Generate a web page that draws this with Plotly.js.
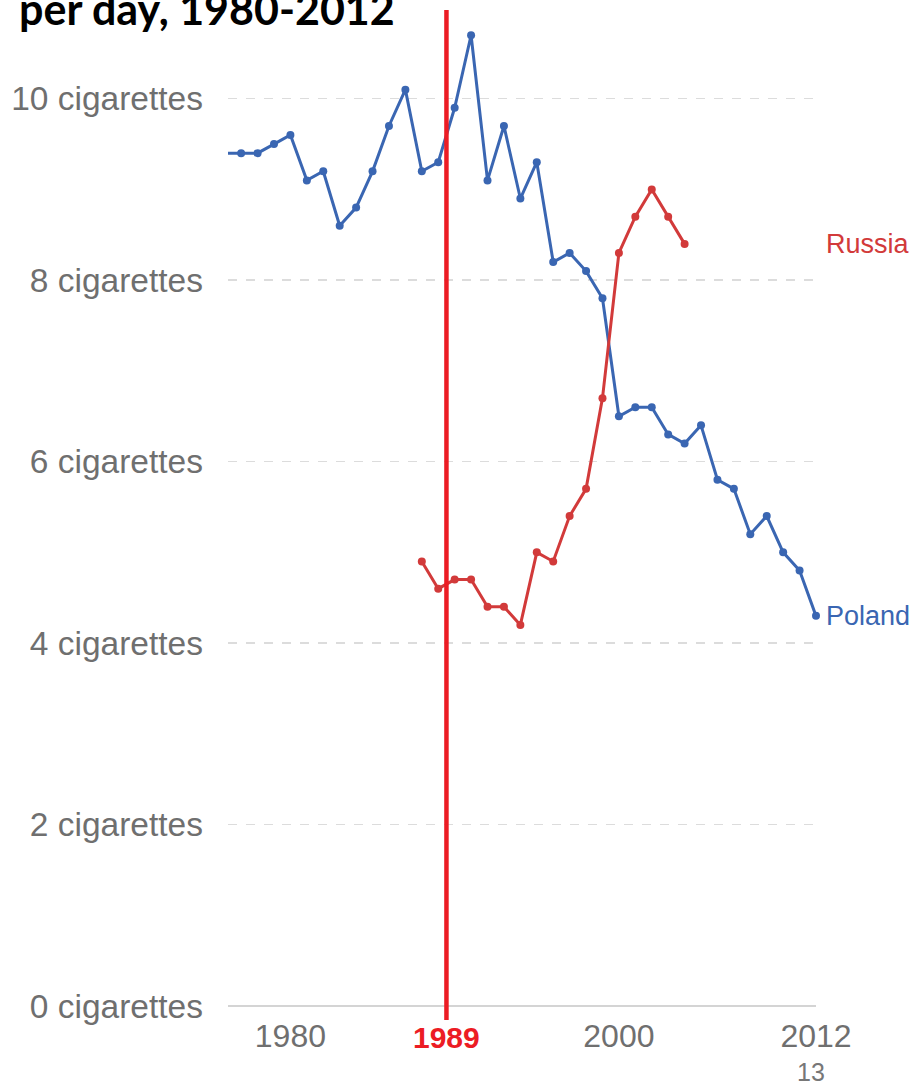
<!DOCTYPE html>
<html>
<head>
<meta charset="utf-8">
<script src="https://cdn.plot.ly/plotly-3.0.1.min.js"></script>
<style>html,body{margin:0;padding:0;background:#fff;}#chart{width:913px;height:1085px;}</style>
</head>
<body>
<div id="chart"></div>
<script>
// ---- data ----
const polandYears = [1976,1977,1978,1979,1980,1981,1982,1983,1984,1985,1986,1987,1988,1989,1990,1991,1992,1993,1994,1995,1996,1997,1998,1999,2000,2001,2002,2003,2004,2005,2006,2007,2008,2009,2010,2011,2012];
const polandValues = [9.4,9.4,9.4,9.5,9.6,9.1,9.2,8.6,8.8,9.2,9.7,10.1,9.2,9.3,9.9,10.7,9.1,9.7,8.9,9.3,8.2,8.3,8.1,7.8,6.5,6.6,6.6,6.3,6.2,6.4,5.8,5.7,5.2,5.4,5.0,4.8,4.3];
const russiaYears = [1988,1989,1990,1991,1992,1993,1994,1995,1996,1997,1998,1999,2000,2001,2002,2003,2004];
const russiaValues = [4.9,4.6,4.7,4.7,4.4,4.4,4.2,5.0,4.9,5.4,5.7,6.7,8.3,8.7,9.0,8.7,8.4];
const xTickVals = [1980, 2000, 2012];
const xTickText = ['1980', '2000', '2012'];
const yTickVals = [0, 2, 4, 6, 8, 10];
const yTickText = ['0 cigarettes', '2 cigarettes', '4 cigarettes', '6 cigarettes', '8 cigarettes', '10 cigarettes'];
const eventYear = 1989;
const titleText = 'per day, 1980-2012';
const pageNumber = '13';

const blue = '#3a66b2';
const red = '#d23a3a';
const eventRed = '#ec1c24';
const eventX = eventYear + 0.5;
const xRange = [1976.2, 2012];

const traces = [
  {x: polandYears, y: polandValues, type: 'scatter', mode: 'lines+markers', name: 'Poland',
   line: {color: blue, width: 3}, cliponaxis: false,
   marker: {color: blue, opacity: 1, line: {width: 0}, size: polandYears.map(v => v < xRange[0] ? 0 : 8)}},
  {x: russiaYears, y: russiaValues, type: 'scatter', mode: 'lines+markers', name: 'Russia',
   line: {color: red, width: 3}, marker: {color: red, size: 8, opacity: 1, line: {width: 0}}, cliponaxis: false}
];

const layout = {
  width: 913, height: 1085,
  margin: {l: 228, r: 97, t: 8, b: 79},
  paper_bgcolor: '#fff', plot_bgcolor: '#fff',
  showlegend: false,
  font: {family: 'Liberation Sans, Arial, sans-serif', color: '#6f6f6f'},
  xaxis: {
    range: xRange, tickvals: xTickVals, ticktext: xTickText,
    showgrid: false, zeroline: false, showline: false, ticks: '',
    tickfont: {size: 32, color: '#6f6f6f'}, ticklabelstandoff: 8
  },
  yaxis: {
    range: [0, 11], tickvals: yTickVals, ticktext: yTickText,
    showgrid: true, gridcolor: '#dcdcdc', gridwidth: 1.5, griddash: 'dash',
    zeroline: true, zerolinecolor: '#d4d4d4', zerolinewidth: 2.5,
    showline: false, ticks: '', tickfont: {size: 33.5, color: '#6f6f6f'},
    ticklabelstandoff: 24
  },
  shapes: [
    {type: 'line', xref: 'x', yref: 'paper', x0: eventX, x1: eventX, y0: -0.014, y1: 0.998,
     line: {color: eventRed, width: 4.5}, layer: 'above'}
  ],
  annotations: [
    {xref: 'x', yref: 'paper', x: eventX, y: -0.0135, yanchor: 'top', xanchor: 'center',
     text: '<b>' + eventYear + '</b>', showarrow: false,
     font: {size: 30, color: eventRed, family: 'Liberation Sans, Arial, sans-serif'}},
    {xref: 'x', yref: 'y', x: 2012, y: russiaValues[russiaValues.length - 1], xanchor: 'left', yanchor: 'middle',
     xshift: 8, text: 'Russia', showarrow: false, font: {size: 27, color: red}},
    {xref: 'x', yref: 'y', x: 2012, y: polandValues[polandValues.length - 1], xanchor: 'left', yanchor: 'middle',
     xshift: 8, text: 'Poland', showarrow: false, font: {size: 27, color: blue}},
    {xref: 'paper', yref: 'paper', x: -0.358, y: 1.0, xanchor: 'left', yanchor: 'middle',
     text: '<b>' + titleText + '</b>', showarrow: false,
     font: {size: 43, color: '#000', family: 'Lato, Liberation Sans, sans-serif'}},
    {xref: 'paper', yref: 'paper', x: 0.992, y: -0.066, xanchor: 'center', yanchor: 'middle',
     text: pageNumber, showarrow: false, font: {size: 25, color: '#777'}}
  ]
};

Plotly.newPlot('chart', traces, layout, {displayModeBar: false, staticPlot: true});
</script>
</body>
</html>
